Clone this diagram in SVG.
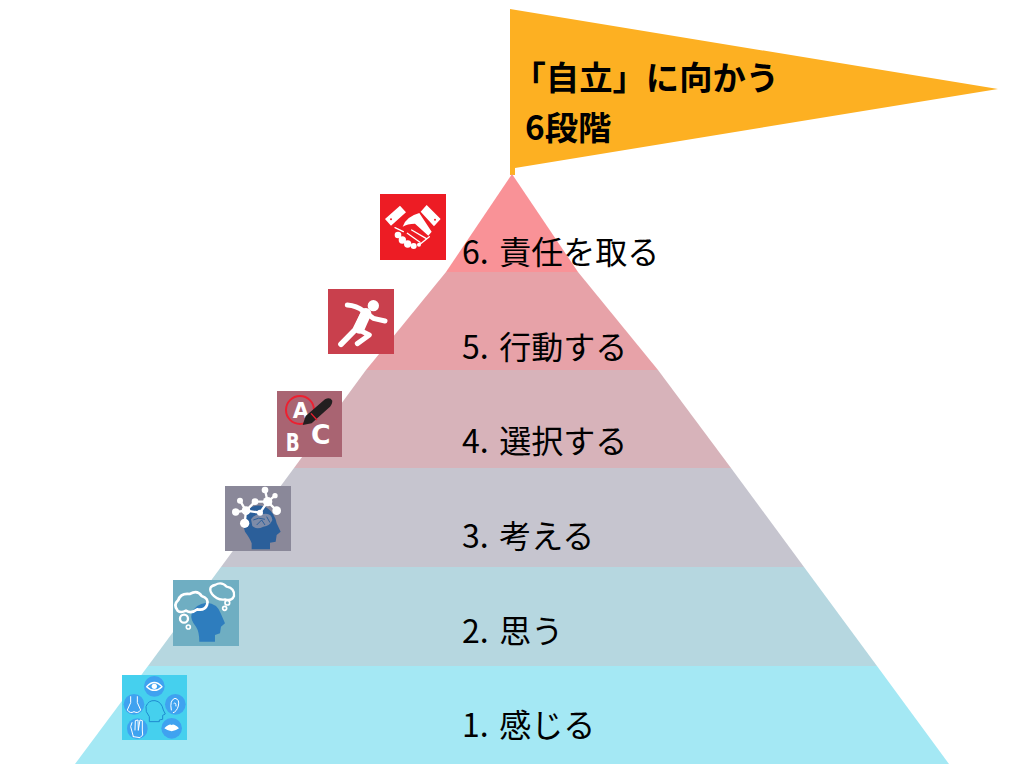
<svg xmlns="http://www.w3.org/2000/svg" width="1024" height="768" viewBox="0 0 1024 768">
<style>
.label{font-family:"Noto Sans CJK JP","Noto Sans",sans-serif;font-size:32px;fill:#000}
.title{font-family:"Noto Sans CJK JP","Noto Sans",sans-serif;font-size:33.33px;font-weight:700;fill:#000}
.glyph{font-family:"DejaVu Sans","Liberation Sans",sans-serif;font-weight:700;fill:#fff;font-size:64px}
.w{fill:none;stroke:#fff;stroke-linecap:round;stroke-linejoin:round}
.bub{fill:#3FA2F0}
</style>
<rect width="1024" height="768" fill="#fff"/>
<g id="connectors"/>
<g id="flag">
<polygon points="510,9 998,89 515,168 515,175 510,175" fill="#FDB022"/>
<text class="title" x="512.5" y="90">「自立」に向かう</text>
<text class="title" x="525" y="140">6段階</text>
</g>
<g id="level-6">
<polygon points="512,174 578,272 446,272" fill="#F99297"/>
<text class="label" x="462" y="264">6.<tspan dx="10.5">責任を取る</tspan></text>
<rect x="380" y="194" width="66" height="66" fill="#ED1C24"/>
<g transform="translate(320 185) scale(.3333)">
<path d="M195 102 L240 62 L258 82 L213 122Z M302 80 L320 60 L362 102 L342 124Z" fill="#fff"/>
<circle cx="213" cy="103" r="3" fill="#ED1C24"/><circle cx="345" cy="104" r="3" fill="#ED1C24"/>
<path d="M248 125 Q258 95 298 84 L335 140 L325 152 L285 116 Q262 116 248 125Z" fill="#fff"/>
<path d="M225 128 L250 140 M300 178 L328 155 M275 135 L318 160 M262 145 L300 172" class="w" stroke-width="4"/>
<g fill="#fff"><circle cx="234" cy="150" r="10"/><circle cx="247" cy="165" r="11"/><circle cx="263" cy="177" r="11"/><circle cx="281" cy="183" r="9"/><circle cx="297" cy="179" r="6"/></g>
</g>
</g>
<g id="level-5">
<polygon points="446,272 578,272 658,370 366,370" fill="#E7A2A8"/>
<text class="label" x="462" y="359">5.<tspan dx="10.5">行動する</tspan></text>
<rect x="328" y="289" width="66" height="65" fill="#C9404D"/>
<g transform="translate(320 185) scale(.3333)">
<circle cx="160" cy="362" r="17" fill="#fff"/>
<path d="M82 360 Q110 362 130 378 L160 400 L195 408" class="w" stroke-width="15"/>
<path d="M130 385 L105 435 L63 478" class="w" stroke-width="17"/>
<path d="M112 432 L148 450 L112 476" class="w" stroke-width="15"/>
<path d="M138 385 L118 430" class="w" stroke-width="32"/>
</g>
</g>
<g id="level-4">
<polygon points="366,370 658,370 731,468 294,468" fill="#D7B3BA"/>
<text class="label" x="462" y="453">4.<tspan dx="10.5">選択する</tspan></text>
<rect x="277" y="391" width="65" height="66" fill="#A96472"/>
<g transform="translate(215 380) scale(.3333)">
<circle cx="255" cy="90" r="42" fill="none" stroke="#ED2030" stroke-width="6"/>
<text class="glyph" x="233" y="113" style="font-size:63px">A</text>
<text class="glyph" x="212" y="214" style="font-size:72px" textLength="42" lengthAdjust="spacingAndGlyphs">B</text>
<text class="glyph" x="288" y="193" style="font-size:80px">C</text>
<path d="M263 135 L272 108 L330 58 Q345 50 352 62 Q352 75 340 85 L290 130Z" fill="#231F20"/>
<path d="M288 100 L306 120" stroke="#ED2030" stroke-width="4"/>
</g>
</g>
<g id="level-3">
<polygon points="294,468 731,468 804,567 221,567" fill="#C6C5CF"/>
<text class="label" x="462" y="548">3.<tspan dx="10.5">考える</tspan></text>
<rect x="225" y="486" width="66" height="65" fill="#8A8899"/>
<g transform="translate(215 380) scale(.3333)">
<path d="M110 508 L165 508 L165 488 L182 485 L185 465 L197 455 L185 430 Q178 395 150 380 Q115 368 95 395 Q80 430 90 455 Q105 475 110 490Z" fill="#2B5F9A"/>
<path d="M108 418 Q118 400 145 402 Q170 398 172 420 Q165 438 145 440 Q125 450 112 438Z" fill="#7D8BA8"/>
<path d="M115 420 Q130 410 150 418 M125 435 L140 420 L150 435 M155 410 L165 428" fill="none" stroke="#2B5F9A" stroke-width="3"/>
<path d="M150 330 L158 365 L180 347 M158 365 L185 392 M158 365 L135 398 L93 392 M158 365 L120 365 L93 392 L75 362 M93 392 L62 396 M93 392 L89 430" stroke="#fff" stroke-width="7" fill="none"/>
<g fill="#fff">
<circle cx="150" cy="330" r="10"/><circle cx="180" cy="347" r="8"/><circle cx="158" cy="365" r="14"/><circle cx="185" cy="392" r="13"/><circle cx="120" cy="365" r="10"/><circle cx="93" cy="392" r="13"/><circle cx="75" cy="362" r="9"/><circle cx="62" cy="396" r="11"/><circle cx="89" cy="430" r="14"/><circle cx="135" cy="398" r="9"/>
</g>
</g>
</g>
<g id="level-2">
<polygon points="221,567 804,567 877,666 148,666" fill="#B6D7E0"/>
<text class="label" x="462" y="643">2.<tspan dx="10.5">思う</tspan></text>
<rect x="173" y="580" width="66" height="66" fill="#6FAEC2"/>
<g transform="translate(110 570) scale(.3333)">
<path d="M268 215 L315 215 L315 195 L330 190 L333 170 L345 160 L332 130 Q322 100 290 98 Q255 102 245 130 Q240 150 258 170 Q268 185 268 215Z" fill="#2E7DBE"/>
<path d="M203 122 Q188 105 205 90 Q212 68 240 72 Q262 58 275 78 Q298 85 291 105 Q285 122 262 118 Q245 132 228 122 Q212 130 203 122Z" class="w" stroke-width="8"/>
<path d="M306 72 Q292 50 315 45 Q335 33 350 50 Q375 55 372 78 Q365 95 345 88 Q322 92 306 72Z" class="w" stroke-width="7"/>
<circle cx="222" cy="146" r="12" class="w" stroke-width="7"/>
<circle cx="235" cy="171" r="6" class="w" stroke-width="5"/>
<circle cx="352" cy="98" r="7" class="w" stroke-width="5"/>
<circle cx="344" cy="115" r="6" class="w" stroke-width="5"/>
</g>
</g>
<g id="level-1">
<polygon points="148,666 877,666 949,764 75,764" fill="#A4E8F4"/>
<text class="label" x="462" y="737">1.<tspan dx="10.5">感じる</tspan></text>
<rect x="122" y="675" width="65" height="65" fill="#45D0EE"/>
<g transform="translate(110 570) scale(.3333)">
<circle class="bub" cx="133" cy="349" r="31"/><circle class="bub" cx="196" cy="403" r="31"/><circle class="bub" cx="185" cy="475" r="31"/><circle class="bub" cx="82" cy="476" r="31"/><circle class="bub" cx="72" cy="403" r="31"/>
<path d="M110 350 Q133 325 156 350 Q133 372 110 350Z" class="w" stroke-width="4"/>
<circle cx="133" cy="349" r="8" fill="#fff"/>
<path d="M184 420 Q178 390 195 385 Q210 388 205 408 Q200 425 190 428M192 400 Q198 395 198 408" class="w" stroke-width="3"/>
<path d="M163 475 Q178 460 185 465 Q192 460 207 475 Q185 492 163 475Z" fill="#fff"/>
<path d="M62 380 L62 398 L52 420 Q60 432 72 425 Q84 432 92 420 L82 398 L82 380" class="w" stroke-width="3"/>
<path d="M70 500 L62 470 L66 458 M75 480 L76 452 L84 450 L85 480 M85 480 L90 450 L97 452 L97 480 L98 495 L90 503 L70 500" class="w" stroke-width="3"/>
<path d="M118 455 L118 440 Q105 425 108 410 Q115 390 135 392 Q155 395 160 420 L166 432 L158 436 L158 448 L148 450 L148 455Z" fill="none" stroke="#1E8BD0" stroke-width="3"/>
</g>
</g>
</svg>
